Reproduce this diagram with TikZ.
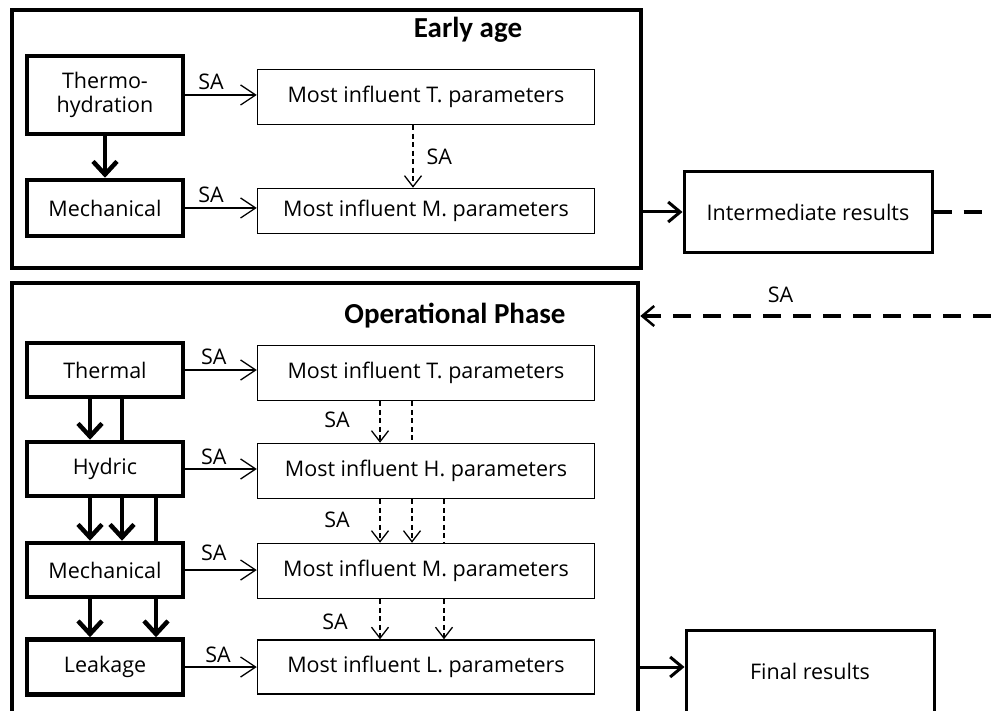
\documentclass[tikz,border=0pt]{standalone}
\usepackage{fontspec}
\setmainfont{Open Sans}
\newfontfamily\titlefont{Carlito}
\usetikzlibrary{arrows.meta}
\begin{document}
\begin{tikzpicture}[x=1pt,y=-1pt,
  bodyfont/.style={font=\fontsize{21.5}{24}\selectfont},
  outerbox/.style={draw, line width=4.5pt, inner sep=0pt},
  thickbox/.style={draw, line width=4.5pt, inner sep=0pt, align=center, bodyfont},
  thinbox/.style={draw, line width=1.5pt, inner sep=0pt, align=center, bodyfont},
  titletext/.style={font=\titlefont\bfseries\fontsize{29}{34}\selectfont, inner sep=0pt},
  satext/.style={bodyfont, inner sep=1pt},
  saarrow/.style={line width=1.3pt, -{Straight Barb[length=15pt,width=20pt,line width=1.3pt]}},
  dasharrow/.style={line width=1.3pt, dash pattern=on 5pt off 3.5pt, -{Straight Barb[length=11pt,width=17pt,line width=1.3pt]}},
  dashline/.style={line width=1.3pt, dash pattern=on 5pt off 3.5pt},
  thickarrow/.style={line width=4.5pt, -{Straight Barb[length=13pt,width=24pt,line width=4.5pt]}},
  thickline/.style={line width=4.5pt},
  longdash/.style={line width=3.5pt, dash pattern=on 18pt off 12pt},
  resarrow/.style={line width=3pt, -{Straight Barb[length=12pt,width=20pt,line width=3pt]}}
]
\clip (0,0) rectangle (991,711);

% ---------- Early age ----------
\node[outerbox, minimum width=629pt, minimum height=258pt] (early) at (326.5,139) {};
\node[titletext] (earlytitle) at (468,30) {Early age};
\node[thickbox, minimum width=156pt, minimum height=78pt] (thermo) at (105,95) {Thermo-\\hydration};
\node[thickbox, minimum width=156pt, minimum height=56pt] (emech) at (105,208) {Mechanical};
\node[thinbox, minimum width=337pt, minimum height=55pt] (eT) at (426,97) {Most influent T. parameters};
\node[thinbox, minimum width=337pt, minimum height=45pt] (eM) at (426,211) {Most influent M. parameters};

\draw[thickarrow] (thermo.south) -- (emech.north);
\draw[saarrow] (thermo.east) -- node[satext, above=4pt, pos=0.36] (sa1) {SA} (thermo.east -| eT.west);
\draw[saarrow] (emech.east) -- node[satext, above=4pt, pos=0.36] (sa2) {SA} (emech.east -| eM.west);
\coordinate (ex) at (413,0);
\draw[dasharrow] (eT.south -| ex) -- node[satext, right=12pt] (sa3) {SA} (eM.north -| ex);

% ---------- Intermediate ----------
\node[thinbox, line width=3pt, minimum width=248pt, minimum height=81pt] (inter) at (808,212) {Intermediate results};
\draw[resarrow] (early.east |- inter.west) -- (inter.west);
\coordinate (rend1) at (991,212);
\draw[longdash] (inter.east) -- (rend1);
\coordinate (rend2) at (991,316);

% ---------- Operational ----------
\node[outerbox, minimum width=626pt, minimum height=447pt] (oper) at (325,506.5) {};
\node[titletext] (opertitle) at (455,316) {Operational Phase};
\draw[longdash, -{Straight Barb[length=12pt,width=20pt,line width=2.5pt]}] (rend2) -- node[satext, above=11pt, pos=0.6] (sa4) {SA} (oper.east |- rend2);

\node[thickbox, minimum width=156pt, minimum height=54pt] (thermal) at (105,370) {Thermal};
\node[thickbox, minimum width=156pt, minimum height=54pt] (hydric) at (105,469) {Hydric};
\node[thickbox, minimum width=156pt, minimum height=54pt] (omech) at (105,570) {Mechanical};
\node[thickbox, minimum width=156pt, minimum height=55pt] (leak) at (105,667) {Leakage};

\node[thinbox, minimum width=337pt, minimum height=55pt] (oT) at (426,373) {Most influent T. parameters};
\node[thinbox, minimum width=337pt, minimum height=55pt] (oH) at (426,471) {Most influent H. parameters};
\node[thinbox, minimum width=337pt, minimum height=55pt] (oM) at (426,571) {Most influent M. parameters};
\node[thinbox, minimum width=337pt, minimum height=54pt] (oL) at (426,667) {Most influent L. parameters};

\draw[saarrow] (thermal.east) -- node[satext, above=4pt, pos=0.4] (sa5) {SA} (thermal.east -| oT.west);
\draw[saarrow] (hydric.east) -- node[satext, above=3pt, pos=0.4] (sa6) {SA} (hydric.east -| oH.west);
\draw[saarrow] (omech.east) -- node[satext, above=8pt, pos=0.4] (sa7) {SA} (omech.east -| oM.west);
\draw[saarrow] (leak.east) -- node[satext, above=3pt, pos=0.46] (sa8) {SA} (leak.east -| oL.west);

% thick arrows between physics boxes
\coordinate (k1) at (90,0);
\coordinate (k2) at (122,0);
\coordinate (k3) at (156,0);
\draw[thickarrow] (thermal.south -| k1) -- (hydric.north -| k1);
\draw[thickline] (thermal.south -| k2) -- (hydric.north -| k2);
\draw[thickarrow] (hydric.south -| k1) -- (omech.north -| k1);
\draw[thickarrow] (hydric.south -| k2) -- (omech.north -| k2);
\draw[thickline] (hydric.south -| k3) -- (omech.north -| k3);
\draw[thickarrow] (omech.south -| k1) -- (leak.north -| k1);
\draw[thickarrow] (omech.south -| k3) -- (leak.north -| k3);

% dashed arrows between parameter boxes
\coordinate (d1) at (380,0);
\coordinate (d2) at (412,0);
\coordinate (d3) at (444,0);
\draw[dasharrow] (oT.south -| d1) -- (oH.north -| d1);
\draw[dashline] (oT.south -| d2) -- (oH.north -| d2);
\draw[dasharrow] (oH.south -| d1) -- (oM.north -| d1);
\draw[dasharrow] (oH.south -| d2) -- (oM.north -| d2);
\draw[dashline] (oH.south -| d3) -- (oM.north -| d3);
\draw[dasharrow] (oM.south -| d1) -- (oL.north -| d1);
\draw[dasharrow] (oM.south -| d3) -- (oL.north -| d3);
\node[satext] (sa9) at (337,420) {SA};
\node[satext] (sa10) at (337,520) {SA};
\node[satext] (sa11) at (335,622) {SA};

% ---------- Final ----------
\node[thinbox, line width=3pt, minimum width=248pt, minimum height=82pt] (final) at (810,671) {Final results};
\draw[resarrow] (oper.east |- 0,667) -- (final.west |- 0,667);
\end{tikzpicture}
\end{document}
